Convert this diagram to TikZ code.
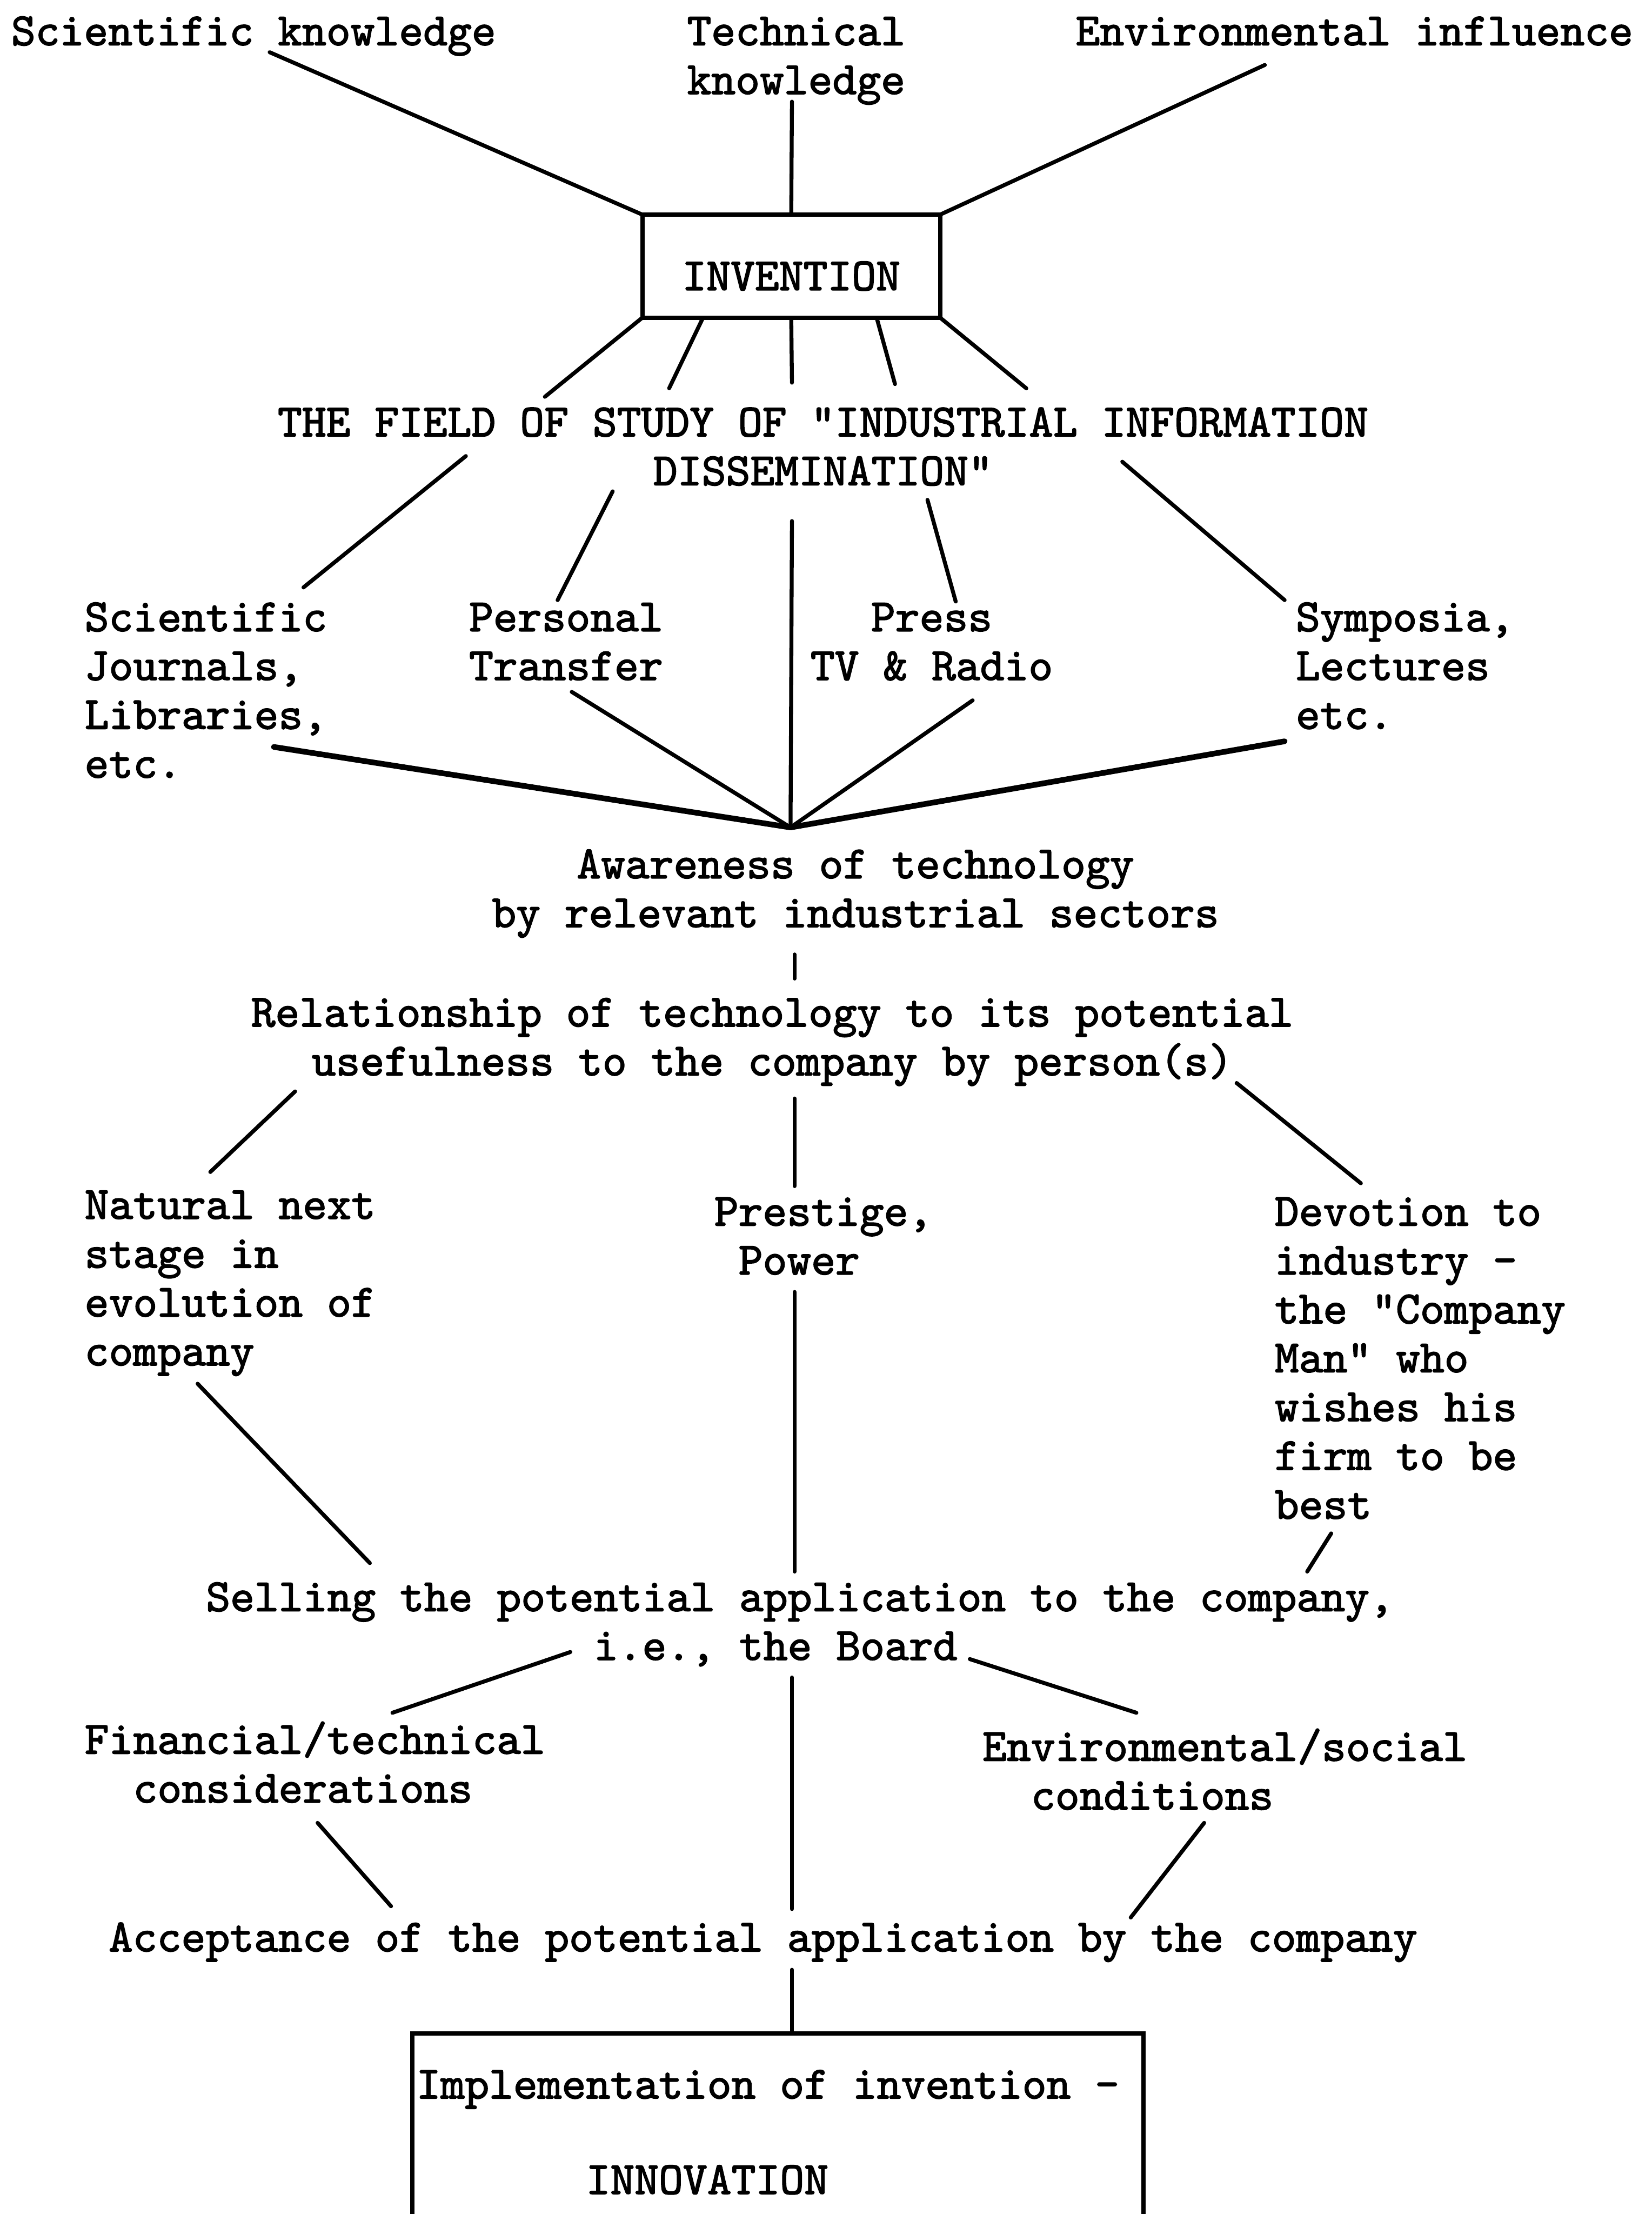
\documentclass[tikz,border=0pt]{standalone}
\usepackage{fontspec}
\newfontfamily\twfont{lmmono10-regular.otf}[FakeBold=2]
\begin{document}
\begin{tikzpicture}[x=1pt,y=-1pt,
  txt/.style={font=\twfont\fontsize{32.7pt}{34.6pt}\selectfont, inner sep=0pt, outer sep=0pt},
  conn/.style={line width=2.8pt, line cap=round},
  heavy/.style={line width=4pt, line cap=round},
  boxed/.style={draw, line width=3pt}]
\useasboundingbox (0,0) rectangle (1170,1568);
\clip (0,0) rectangle (1170,1568);

% ---------- text nodes (base anchor = baseline of the last line) ----------
\node[txt, anchor=base west] (sci) at (8,32) {Scientific knowledge};
\node[txt, anchor=base, align=center] (tech) at (564,66.6) {Technical\\knowledge};
\node[txt, anchor=base west] (env) at (762,32) {Environmental influence};

\node[txt, boxed, minimum width=211pt, minimum height=73pt, text height=34pt, text depth=0pt] (inv) at (560.5,188.5) {INVENTION};

\node[txt, anchor=base, align=center] (field) at (583,343.6) {THE FIELD OF STUDY OF "INDUSTRIAL INFORMATION\\DISSEMINATION"};

\node[txt, anchor=base west, align=left] (sjl) at (60,550.8) {Scientific\\Journals,\\Libraries,\\etc.};
\node[txt, anchor=base, align=center] (pt) at (401,481.6) {Personal\\Transfer};
\node[txt, anchor=base, align=center] (press) at (660,481.6) {Press\\TV \& Radio};
\node[txt, anchor=base west, align=left] (symp) at (918,516.2) {Symposia,\\Lectures\\etc.};

\node[txt, anchor=base, align=center] (aware) at (606,656.6) {Awareness of technology\\by relevant industrial sectors};

\node[txt, anchor=base, align=center] (rel) at (547,761.6) {Relationship of technology to its potential\\usefulness to the company by person(s)};

\node[txt, anchor=base west, align=left] (nat) at (60,967) {Natural next\\stage in\\evolution of\\company};
\node[txt, anchor=base west, align=left] (prest) at (506,902.6) {Prestige,\\\hspace*{17.2pt}Power};
\node[txt, anchor=base west, align=left] (dev) at (903,1075.6) {Devotion to\\industry -\\the "Company\\Man" who\\wishes his\\firm to be\\best};

\node[txt, anchor=base west, align=left] (sell) at (146,1175.6) {Selling the potential application to the company,\\\hspace*{274.7pt}i.e., the Board};

\node[txt, anchor=base west, align=left] (fin) at (60,1276.6) {Financial/technical\\\hspace*{34.4pt}considerations};
\node[txt, anchor=base west, align=left] (envs) at (696,1281.6) {Environmental/social\\\hspace*{34.4pt}conditions};

\node[txt, anchor=base west] (acc) at (77,1382) {Acceptance of the potential application by the company};

\node[txt, boxed, anchor=north west, text width=512pt, align=flush left, inner xsep=3pt, inner ysep=26pt] (impl) at (292,1440) {Implementation of invention -\\[33pt]\hspace*{120.2pt}INNOVATION};

% ---------- free ends of connectors ----------
\coordinate (sciE) at (191,37);
\coordinate (techE) at (561,72);
\coordinate (envE) at (896,46);

\coordinate (f1) at (386,281);
\coordinate (f2) at (474,275);
\coordinate (f3) at (561,271);
\coordinate (f4) at (634,272);
\coordinate (f5) at (727,275);

\coordinate (g1a) at (330,323); \coordinate (g1b) at (215,416);
\coordinate (g2a) at (434,348); \coordinate (g2b) at (395,425);
\coordinate (g3a) at (561,369);
\coordinate (g4a) at (657,354); \coordinate (g4b) at (677,426);
\coordinate (g5a) at (795,327); \coordinate (g5b) at (910,425);

\coordinate (conv) at (560,586);
\coordinate (h1) at (194,529);
\coordinate (h2) at (405,490);
\coordinate (h3) at (689,496);
\coordinate (h4) at (910,525);

\coordinate (a1) at (563,676); \coordinate (a2) at (563,693);

\coordinate (r1a) at (209,773); \coordinate (r1b) at (149,830);
\coordinate (r2a) at (563,778); \coordinate (r2b) at (563,840);
\coordinate (r3a) at (876,767); \coordinate (r3b) at (964,838);

\coordinate (m1a) at (140,980); \coordinate (m1b) at (262,1107);
\coordinate (m2a) at (563,915); \coordinate (m2b) at (563,1113);
\coordinate (m3a) at (943,1086); \coordinate (m3b) at (926,1113);

\coordinate (s1a) at (404,1170); \coordinate (s1b) at (278,1213);
\coordinate (s2a) at (561,1188); \coordinate (s2b) at (561,1352);
\coordinate (s3a) at (687,1175); \coordinate (s3b) at (805,1213);

\coordinate (b1a) at (225,1291); \coordinate (b1b) at (277,1350);
\coordinate (b2a) at (853,1291); \coordinate (b2b) at (801,1358);

\coordinate (c1) at (561,1395);

% ---------- connectors ----------
\draw[conn] (sciE) -- (inv.north west);
\draw[conn] (techE) -- (inv.north);
\draw[conn] (envE) -- (inv.north east);

\draw[conn] (inv.south west) -- (f1);
\draw[conn] ([xshift=-62.5pt]inv.south) -- (f2);
\draw[conn] (inv.south) -- (f3);
\draw[conn] ([xshift=60.5pt]inv.south) -- (f4);
\draw[conn] (inv.south east) -- (f5);

\draw[conn] (g1a) -- (g1b);
\draw[conn] (g2a) -- (g2b);
\draw[conn] (g3a) -- (conv);
\draw[conn] (g4a) -- (g4b);
\draw[conn] (g5a) -- (g5b);

\draw[heavy] (h1) -- (conv);
\draw[conn] (h2) -- (conv);
\draw[conn] (h3) -- (conv);
\draw[heavy] (h4) -- (conv);

\draw[conn] (a1) -- (a2);

\draw[conn] (r1a) -- (r1b);
\draw[conn] (r2a) -- (r2b);
\draw[conn] (r3a) -- (r3b);

\draw[conn] (m1a) -- (m1b);
\draw[conn] (m2a) -- (m2b);
\draw[conn] (m3a) -- (m3b);

\draw[conn] (s1a) -- (s1b);
\draw[conn] (s2a) -- (s2b);
\draw[conn] (s3a) -- (s3b);

\draw[conn] (b1a) -- (b1b);
\draw[conn] (b2a) -- (b2b);

\draw[conn] (c1) -- ([xshift=10pt]impl.north);
\end{tikzpicture}
\end{document}
